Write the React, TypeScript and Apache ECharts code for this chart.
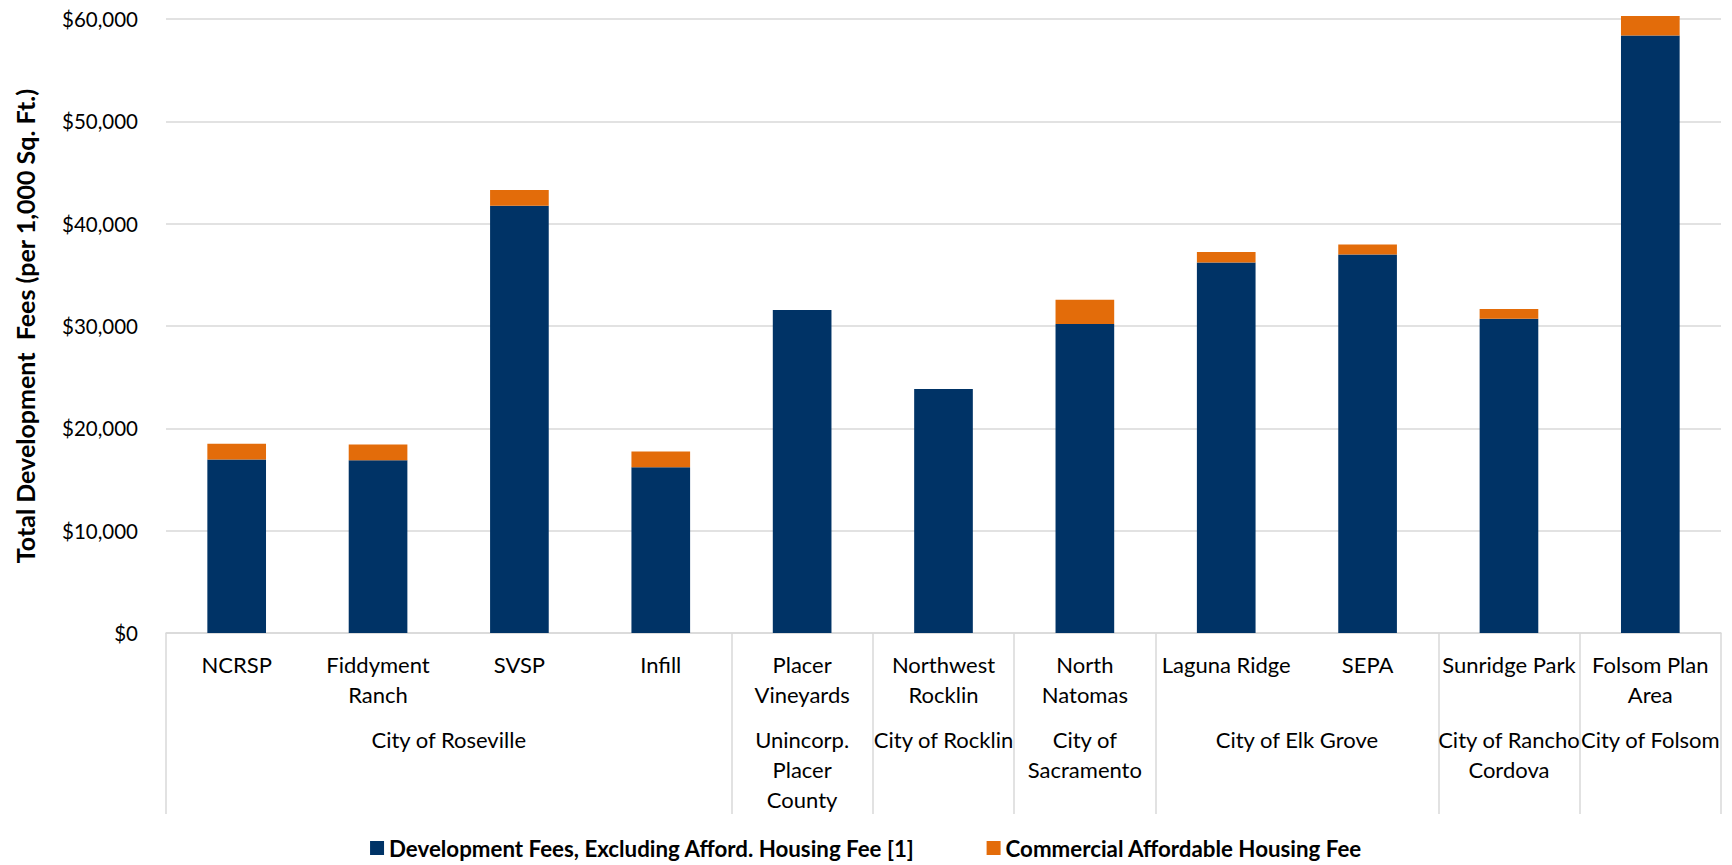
import React, { useEffect, useRef } from "react";
import * as echarts from "echarts";

const categories = [
  "NCRSP",
  "Fiddyment\nRanch",
  "SVSP",
  "Infill",
  "Placer\nVineyards",
  "Northwest\nRocklin",
  "North\nNatomas",
  "Laguna Ridge",
  "SEPA",
  "Sunridge Park",
  "Folsom Plan\nArea",
];
const groupNames = [
  "City of Roseville",
  "Unincorp.\nPlacer\nCounty",
  "City of Rocklin",
  "City of\nSacramento",
  "City of Elk Grove",
  "City of Rancho\nCordova",
  "City of Folsom",
];
const groupSizes = [4, 1, 1, 1, 2, 1, 1];
const devFees = [16960, 16890, 41750, 16200, 31560, 23850, 30200, 36210, 36990, 30720, 58380];
const affordFees = [1540, 1535, 1530, 1540, 0, 0, 2370, 1010, 975, 940, 1910];
const seriesNames = [
  "Development Fees, Excluding Afford. Housing Fee [1]",
  "Commercial Affordable Housing Fee",
];
const yMin = 0;
const yMax = 60000;
const yStep = 10000;
const yTitle = "Total Development  Fees (per 1,000 Sq. Ft.)";

const FONT = "Lato, 'Open Sans', sans-serif";

export default function App() {
  const ref = useRef<HTMLDivElement>(null);
  useEffect(() => {
    if (!ref.current) return;
    const chart = echarts.init(ref.current, undefined, { renderer: "svg" });

    // Half-step group axis: 2N+1 points, group boundaries at even points
    const n = categories.length;
    const groupAxis: string[] = new Array(2 * n + 1).fill("");
    const boundaries = new Set<number>();
    let s = 0;
    groupNames.forEach((g, i) => {
      boundaries.add(2 * s);
      groupAxis[2 * s + groupSizes[i]] = g;
      s += groupSizes[i];
    });
    boundaries.add(2 * n);

    chart.setOption({
      animation: false,
      backgroundColor: "#ffffff",
      textStyle: { fontFamily: FONT },
      grid: { left: 166, right: 11, top: 19, bottom: 232, containLabel: false },
      legend: {
        bottom: 1,
        left: "center",
        icon: "rect",
        itemWidth: 14,
        itemHeight: 14,
        itemGap: 72,
        textStyle: { fontFamily: FONT, fontSize: 22.3, fontWeight: "bold", color: "#000" },
        data: seriesNames,
      },
      xAxis: [
        {
          type: "category",
          data: categories,
          axisLine: { show: true, lineStyle: { color: "#D9D9D9", width: 1.5 } },
          axisTick: { show: false },
          axisLabel: {
            interval: 0,
            margin: 16,
            fontFamily: FONT,
            fontSize: 22,
            lineHeight: 30,
            color: "#000",
          },
        },
        {
          type: "category",
          data: groupAxis,
          boundaryGap: false,
          position: "bottom",
          offset: 0,
          axisLine: { show: false },
          axisTick: {
            show: true,
            length: 181,
            interval: (i: number) => boundaries.has(i),
            lineStyle: { color: "#D9D9D9", width: 1.5 },
          },
          axisLabel: {
            interval: 0,
            margin: 91,
            fontFamily: FONT,
            fontSize: 22,
            lineHeight: 30,
            color: "#000",
          },
          splitLine: { show: false },
        },
      ],
      yAxis: {
        type: "value",
        min: yMin,
        max: yMax,
        interval: yStep,
        name: yTitle,
        nameLocation: "middle",
        nameGap: 129,
        nameTextStyle: { fontFamily: FONT, fontSize: 25, fontWeight: "bold", color: "#000" },
        axisLine: { show: false },
        axisTick: { show: false },
        splitLine: { lineStyle: { color: "#D9D9D9", width: 1.5 } },
        axisLabel: {
          margin: 28,
          fontFamily: FONT,
          fontSize: 20.5,
          color: "#000",
          formatter: (v: number) => "$" + v.toLocaleString("en-US"),
        },
      },
      series: [
        {
          name: seriesNames[0],
          type: "bar",
          stack: "total",
          xAxisIndex: 0,
          barWidth: "41.5%",
          clip: false,
          itemStyle: { color: "#003366" },
          data: devFees,
        },
        {
          name: seriesNames[1],
          type: "bar",
          stack: "total",
          xAxisIndex: 0,
          barWidth: "41.5%",
          clip: false,
          itemStyle: { color: "#E36C0A" },
          data: affordFees,
        },
      ],
    });
    return () => chart.dispose();
  }, []);
  return (
    <div
      ref={ref}
      style={{ position: "absolute", left: 0, top: 0, width: 1732, height: 865, background: "#fff" }}
    />
  );
}
